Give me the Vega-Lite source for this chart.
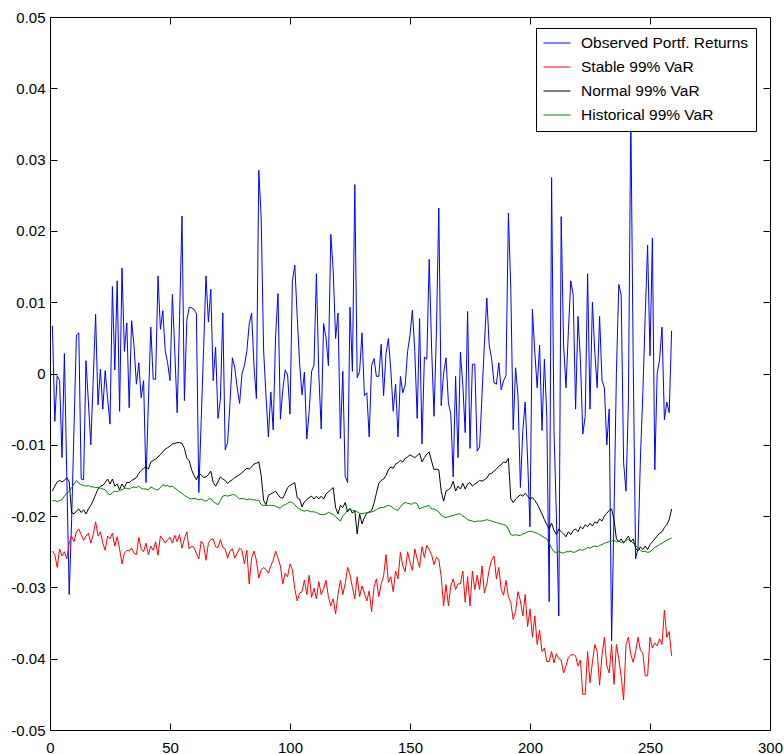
{
"$schema": "https://vega.github.io/schema/vega-lite/v6.json",
"width": 720, "height": 713,
"autosize": {"type": "none"},
"padding": {"left": 50, "top": 17, "right": 14, "bottom": 24},
"background": "white",
"config": {
 "font": "Liberation Sans",
 "view": {"stroke": "black", "strokeWidth": 1},
 "axis": {"grid": false, "title": null, "domain": false, "tickColor": "black", "labelColor": "black", "labelFontSize": 15, "labelFont": "Liberation Sans", "tickSize": 7, "offset": -7},
 "legend": {"labelFontSize": 15.5, "labelFont": "Liberation Sans", "labelColor": "black", "labelLimit": 400, "symbolType": "stroke", "symbolSize": 729, "symbolStrokeWidth": 1, "labelOffset": 10, "padding": 7, "rowPadding": 7, "clipHeight": 16, "fillColor": "white", "strokeColor": "black", "orient": "none", "legendX": 486, "legendY": 11, "title": null}
},
"data": {"values": [
{"x":1,"o":0.0067,"s":-0.0249,"n":-0.0165,"h":-0.0179},
{"x":2,"o":-0.0067,"s":-0.0254,"n":-0.0158,"h":-0.0178},
{"x":3,"o":-0.0003,"s":-0.0272,"n":-0.0152,"h":-0.018},
{"x":4,"o":-0.001,"s":-0.0246,"n":-0.015,"h":-0.0178},
{"x":5,"o":-0.0118,"s":-0.0256,"n":-0.0152,"h":-0.0177},
{"x":6,"o":0.0028,"s":-0.025,"n":-0.015,"h":-0.0172},
{"x":7,"o":-0.0145,"s":-0.026,"n":-0.0146,"h":-0.0168},
{"x":8,"o":-0.031,"s":-0.0238,"n":-0.0152,"h":-0.0165},
{"x":9,"o":-0.0207,"s":-0.0228,"n":-0.0195,"h":-0.016},
{"x":10,"o":-0.0077,"s":-0.0236,"n":-0.0197,"h":-0.0155},
{"x":11,"o":0.0054,"s":-0.0222,"n":-0.0193,"h":-0.015},
{"x":12,"o":0.0057,"s":-0.0218,"n":-0.019,"h":-0.0154},
{"x":13,"o":-0.0148,"s":-0.0226,"n":-0.0195,"h":-0.0156},
{"x":14,"o":-0.0149,"s":-0.0234,"n":-0.0191,"h":-0.0157},
{"x":15,"o":0.0018,"s":-0.0228,"n":-0.0197,"h":-0.0158},
{"x":16,"o":-0.004,"s":-0.0224,"n":-0.019,"h":-0.0157},
{"x":17,"o":-0.01,"s":-0.0238,"n":-0.0185,"h":-0.0159},
{"x":18,"o":-0.001,"s":-0.0226,"n":-0.0178,"h":-0.0159},
{"x":19,"o":0.0083,"s":-0.0208,"n":-0.017,"h":-0.016},
{"x":20,"o":-0.0044,"s":-0.0228,"n":-0.0162,"h":-0.016},
{"x":21,"o":0.0006,"s":-0.0222,"n":-0.0158,"h":-0.0161},
{"x":22,"o":-0.005,"s":-0.0238,"n":-0.0157,"h":-0.0162},
{"x":23,"o":0.0004,"s":-0.0248,"n":-0.0153,"h":-0.0163},
{"x":24,"o":-0.0035,"s":-0.0228,"n":-0.0148,"h":-0.0168},
{"x":25,"o":-0.0071,"s":-0.0232,"n":-0.0155,"h":-0.017},
{"x":26,"o":0.0122,"s":-0.0224,"n":-0.0148,"h":-0.0167},
{"x":27,"o":0.0005,"s":-0.0242,"n":-0.0158,"h":-0.0165},
{"x":28,"o":0.013,"s":-0.0229,"n":-0.0155,"h":-0.0166},
{"x":29,"o":-0.0053,"s":-0.0246,"n":-0.0163,"h":-0.0164},
{"x":30,"o":0.0148,"s":-0.0267,"n":-0.0155,"h":-0.0163},
{"x":31,"o":0.0031,"s":-0.0252,"n":-0.016,"h":-0.0161},
{"x":32,"o":0.0071,"s":-0.0248,"n":-0.0153,"h":-0.0161},
{"x":33,"o":-0.0048,"s":-0.0249,"n":-0.0153,"h":-0.0162},
{"x":34,"o":0.0074,"s":-0.0245,"n":-0.015,"h":-0.016},
{"x":35,"o":0.0039,"s":-0.0252,"n":-0.0148,"h":-0.0159},
{"x":36,"o":-0.0015,"s":-0.0254,"n":-0.0146,"h":-0.016},
{"x":37,"o":0.0015,"s":-0.023,"n":-0.014,"h":-0.0158},
{"x":38,"o":-0.0034,"s":-0.0246,"n":-0.0136,"h":-0.0161},
{"x":39,"o":-0.001,"s":-0.025,"n":-0.0133,"h":-0.0162},
{"x":40,"o":-0.0153,"s":-0.0238,"n":-0.0131,"h":-0.0162},
{"x":41,"o":-0.004,"s":-0.0254,"n":-0.0134,"h":-0.0163},
{"x":42,"o":0.0065,"s":-0.0242,"n":-0.0124,"h":-0.0159},
{"x":43,"o":-0.0008,"s":-0.0248,"n":-0.0122,"h":-0.0161},
{"x":44,"o":-0.0008,"s":-0.0236,"n":-0.012,"h":-0.0163},
{"x":45,"o":0.0137,"s":-0.0255,"n":-0.0117,"h":-0.0163},
{"x":46,"o":0.0062,"s":-0.0228,"n":-0.0114,"h":-0.016},
{"x":47,"o":0.0088,"s":-0.0232,"n":-0.011,"h":-0.0156},
{"x":48,"o":0.0032,"s":-0.0238,"n":-0.0106,"h":-0.0158},
{"x":49,"o":0.0015,"s":-0.0233,"n":-0.0104,"h":-0.0157},
{"x":50,"o":-0.001,"s":-0.023,"n":-0.0102,"h":-0.0159},
{"x":51,"o":0.0111,"s":-0.0238,"n":-0.0099,"h":-0.0158},
{"x":52,"o":0.003,"s":-0.0227,"n":-0.0098,"h":-0.0161},
{"x":53,"o":-0.0055,"s":-0.0236,"n":-0.0097,"h":-0.0163},
{"x":54,"o":0.008,"s":-0.0226,"n":-0.0097,"h":-0.0166},
{"x":55,"o":0.0221,"s":-0.0245,"n":-0.0098,"h":-0.0168},
{"x":56,"o":-0.0038,"s":-0.0232,"n":-0.0105,"h":-0.0171},
{"x":57,"o":0.0074,"s":-0.0222,"n":-0.0119,"h":-0.0173},
{"x":58,"o":0.0093,"s":-0.0246,"n":-0.0122,"h":-0.0175},
{"x":59,"o":0.0092,"s":-0.0242,"n":-0.0135,"h":-0.0176},
{"x":60,"o":0.009,"s":-0.0244,"n":-0.0143,"h":-0.0175},
{"x":61,"o":0.0084,"s":-0.0252,"n":-0.0149,"h":-0.0176},
{"x":62,"o":-0.0167,"s":-0.026,"n":-0.0141,"h":-0.0177},
{"x":63,"o":-0.0066,"s":-0.0235,"n":-0.0142,"h":-0.0176},
{"x":64,"o":0.0035,"s":-0.024,"n":-0.0146,"h":-0.0178},
{"x":65,"o":0.0137,"s":-0.0262,"n":-0.0145,"h":-0.0179},
{"x":66,"o":0.0072,"s":-0.0238,"n":-0.0142,"h":-0.0177},
{"x":67,"o":0.0118,"s":-0.0233,"n":-0.0137,"h":-0.0175},
{"x":68,"o":-0.001,"s":-0.0232,"n":-0.0153,"h":-0.018},
{"x":69,"o":0.0037,"s":-0.0243,"n":-0.0158,"h":-0.0182},
{"x":70,"o":-0.0063,"s":-0.0244,"n":-0.0152,"h":-0.0184},
{"x":71,"o":-0.0036,"s":-0.0233,"n":-0.0145,"h":-0.0178},
{"x":72,"o":0.0085,"s":-0.0244,"n":-0.0148,"h":-0.0172},
{"x":73,"o":-0.0107,"s":-0.0246,"n":-0.015,"h":-0.0171},
{"x":74,"o":-0.0097,"s":-0.0259,"n":-0.0154,"h":-0.0172},
{"x":75,"o":-0.0041,"s":-0.0249,"n":-0.0151,"h":-0.0171},
{"x":76,"o":0.0022,"s":-0.0246,"n":-0.0149,"h":-0.017},
{"x":77,"o":0.0008,"s":-0.0259,"n":-0.0146,"h":-0.017},
{"x":78,"o":-0.002,"s":-0.0252,"n":-0.0144,"h":-0.0173},
{"x":79,"o":-0.0042,"s":-0.0245,"n":-0.0142,"h":-0.0176},
{"x":80,"o":0.0,"s":-0.0248,"n":-0.0139,"h":-0.0175},
{"x":81,"o":0.0011,"s":-0.0267,"n":-0.0136,"h":-0.0176},
{"x":82,"o":0.0031,"s":-0.0248,"n":-0.0133,"h":-0.0177},
{"x":83,"o":0.0069,"s":-0.0295,"n":-0.0134,"h":-0.0176},
{"x":84,"o":0.0085,"s":-0.0259,"n":-0.0131,"h":-0.0177},
{"x":85,"o":0.001,"s":-0.0249,"n":-0.0127,"h":-0.0177},
{"x":86,"o":-0.0035,"s":-0.0262,"n":-0.0126,"h":-0.0178},
{"x":87,"o":0.0285,"s":-0.0287,"n":-0.0124,"h":-0.0178},
{"x":88,"o":0.0218,"s":-0.0275,"n":-0.0143,"h":-0.0184},
{"x":89,"o":0.0033,"s":-0.0272,"n":-0.0178,"h":-0.0185},
{"x":90,"o":-0.0032,"s":-0.0275,"n":-0.0184,"h":-0.0185},
{"x":91,"o":-0.0089,"s":-0.028,"n":-0.0171,"h":-0.0185},
{"x":92,"o":-0.0026,"s":-0.027,"n":-0.0169,"h":-0.0185},
{"x":93,"o":-0.0079,"s":-0.0262,"n":-0.0167,"h":-0.0185},
{"x":94,"o":0.0053,"s":-0.0249,"n":-0.0165,"h":-0.0186},
{"x":95,"o":0.0112,"s":-0.0259,"n":-0.017,"h":-0.0188},
{"x":96,"o":-0.0064,"s":-0.027,"n":-0.0174,"h":-0.0189},
{"x":97,"o":-0.0023,"s":-0.0295,"n":-0.0175,"h":-0.0185},
{"x":98,"o":0.0005,"s":-0.028,"n":-0.0168,"h":-0.0184},
{"x":99,"o":-0.0002,"s":-0.0285,"n":-0.016,"h":-0.0182},
{"x":100,"o":-0.0057,"s":-0.0267,"n":-0.0157,"h":-0.018},
{"x":101,"o":0.013,"s":-0.0275,"n":-0.0155,"h":-0.0181},
{"x":102,"o":0.0152,"s":-0.0302,"n":-0.0153,"h":-0.0184},
{"x":103,"o":0.008,"s":-0.0319,"n":-0.0174,"h":-0.0188},
{"x":104,"o":0.0015,"s":-0.0308,"n":-0.0176,"h":-0.019},
{"x":105,"o":-0.003,"s":-0.0306,"n":-0.0187,"h":-0.0192},
{"x":106,"o":0.0002,"s":-0.029,"n":-0.018,"h":-0.0193},
{"x":107,"o":-0.0092,"s":-0.031,"n":-0.0177,"h":-0.0192},
{"x":108,"o":-0.0053,"s":-0.0283,"n":-0.0174,"h":-0.0193},
{"x":109,"o":0.0003,"s":-0.0314,"n":-0.0172,"h":-0.0194},
{"x":110,"o":0.0012,"s":-0.0301,"n":-0.0176,"h":-0.0194},
{"x":111,"o":0.014,"s":-0.0316,"n":-0.0172,"h":-0.0195},
{"x":112,"o":0.0,"s":-0.0292,"n":-0.0176,"h":-0.0197},
{"x":113,"o":-0.0078,"s":-0.031,"n":-0.0172,"h":-0.0198},
{"x":114,"o":0.007,"s":-0.0302,"n":-0.0176,"h":-0.0198},
{"x":115,"o":0.005,"s":-0.029,"n":-0.0169,"h":-0.0197},
{"x":116,"o":0.0011,"s":-0.0313,"n":-0.0166,"h":-0.0195},
{"x":117,"o":0.0195,"s":-0.0326,"n":-0.0163,"h":-0.0196},
{"x":118,"o":0.0145,"s":-0.0316,"n":-0.016,"h":-0.0198},
{"x":119,"o":0.0049,"s":-0.0337,"n":-0.0188,"h":-0.0201},
{"x":120,"o":0.0085,"s":-0.031,"n":-0.0197,"h":-0.0204},
{"x":121,"o":-0.0091,"s":-0.029,"n":-0.0185,"h":-0.0207},
{"x":122,"o":0.0003,"s":-0.031,"n":-0.0188,"h":-0.02},
{"x":123,"o":-0.0144,"s":-0.0295,"n":-0.0181,"h":-0.0196},
{"x":124,"o":-0.0153,"s":-0.0272,"n":-0.0194,"h":-0.0191},
{"x":125,"o":0.0093,"s":-0.0282,"n":-0.0189,"h":-0.0191},
{"x":126,"o":0.0003,"s":-0.03,"n":-0.0196,"h":-0.0192},
{"x":127,"o":0.0265,"s":-0.0316,"n":-0.0192,"h":-0.0193},
{"x":128,"o":-0.0006,"s":-0.0285,"n":-0.0225,"h":-0.0194},
{"x":129,"o":0.0003,"s":-0.0313,"n":-0.0197,"h":-0.0196},
{"x":130,"o":0.0057,"s":-0.0298,"n":-0.0211,"h":-0.0197},
{"x":131,"o":-0.0031,"s":-0.0308,"n":-0.0202,"h":-0.0196},
{"x":132,"o":-0.0027,"s":-0.0319,"n":-0.0196,"h":-0.0195},
{"x":133,"o":-0.0089,"s":-0.0305,"n":-0.0194,"h":-0.0195},
{"x":134,"o":0.0011,"s":-0.0334,"n":-0.0192,"h":-0.0194},
{"x":135,"o":0.0021,"s":-0.03,"n":-0.0182,"h":-0.0193},
{"x":136,"o":-0.0004,"s":-0.0288,"n":-0.0168,"h":-0.0191},
{"x":137,"o":-0.0004,"s":-0.0313,"n":-0.0154,"h":-0.0189},
{"x":138,"o":0.0041,"s":-0.0295,"n":-0.015,"h":-0.0188},
{"x":139,"o":-0.0031,"s":-0.0284,"n":-0.0148,"h":-0.0188},
{"x":140,"o":0.0028,"s":-0.0254,"n":-0.0143,"h":-0.0186},
{"x":141,"o":0.0049,"s":-0.0293,"n":-0.0135,"h":-0.0185},
{"x":142,"o":0.0005,"s":-0.0285,"n":-0.0131,"h":-0.0186},
{"x":143,"o":-0.0053,"s":-0.0306,"n":-0.0133,"h":-0.0189},
{"x":144,"o":-0.0015,"s":-0.0277,"n":-0.0127,"h":-0.0191},
{"x":145,"o":-0.0089,"s":-0.0288,"n":-0.0125,"h":-0.0192},
{"x":146,"o":-0.0004,"s":-0.0251,"n":-0.0122,"h":-0.0187},
{"x":147,"o":-0.0027,"s":-0.027,"n":-0.0124,"h":-0.0183},
{"x":148,"o":-0.0016,"s":-0.0278,"n":-0.0119,"h":-0.0181},
{"x":149,"o":0.0031,"s":-0.025,"n":-0.0117,"h":-0.0182},
{"x":150,"o":0.0054,"s":-0.0265,"n":-0.0114,"h":-0.0183},
{"x":151,"o":0.0089,"s":-0.0276,"n":-0.0116,"h":-0.0183},
{"x":152,"o":0.0031,"s":-0.0246,"n":-0.0118,"h":-0.0181},
{"x":153,"o":-0.0063,"s":-0.026,"n":-0.0115,"h":-0.0183},
{"x":154,"o":0.0077,"s":-0.0272,"n":-0.0112,"h":-0.019},
{"x":155,"o":-0.0099,"s":-0.0243,"n":-0.0124,"h":-0.0188},
{"x":156,"o":0.0023,"s":-0.0258,"n":-0.0118,"h":-0.0187},
{"x":157,"o":0.002,"s":-0.0241,"n":-0.0113,"h":-0.0186},
{"x":158,"o":0.016,"s":-0.0247,"n":-0.011,"h":-0.0185},
{"x":159,"o":0.0036,"s":-0.0254,"n":-0.0123,"h":-0.019},
{"x":160,"o":-0.006,"s":-0.0268,"n":-0.0135,"h":-0.019},
{"x":161,"o":0.0057,"s":-0.0258,"n":-0.0134,"h":-0.0192},
{"x":162,"o":0.0232,"s":-0.0261,"n":-0.0135,"h":-0.0194},
{"x":163,"o":-0.0045,"s":-0.0285,"n":-0.0165,"h":-0.0199},
{"x":164,"o":0.0,"s":-0.0326,"n":-0.0179,"h":-0.0201},
{"x":165,"o":0.0022,"s":-0.0296,"n":-0.0165,"h":-0.0202},
{"x":166,"o":-0.0041,"s":-0.0326,"n":-0.0163,"h":-0.0201},
{"x":167,"o":-0.0057,"s":-0.0298,"n":-0.016,"h":-0.02},
{"x":168,"o":-0.0145,"s":-0.0288,"n":-0.0151,"h":-0.0199},
{"x":169,"o":-0.0004,"s":-0.0303,"n":-0.0165,"h":-0.0198},
{"x":170,"o":-0.0118,"s":-0.0295,"n":-0.0158,"h":-0.0197},
{"x":171,"o":0.003,"s":-0.0295,"n":-0.0162,"h":-0.0197},
{"x":172,"o":-0.0016,"s":-0.0277,"n":-0.0154,"h":-0.02},
{"x":173,"o":-0.0083,"s":-0.0321,"n":-0.0162,"h":-0.0202},
{"x":174,"o":0.0087,"s":-0.0285,"n":-0.0155,"h":-0.0205},
{"x":175,"o":-0.0105,"s":-0.0326,"n":-0.0153,"h":-0.0206},
{"x":176,"o":0.0013,"s":-0.0277,"n":-0.0158,"h":-0.0207},
{"x":177,"o":0.0013,"s":-0.0303,"n":-0.0155,"h":-0.0208},
{"x":178,"o":-0.0109,"s":-0.0283,"n":-0.0153,"h":-0.0207},
{"x":179,"o":-0.0103,"s":-0.0303,"n":-0.015,"h":-0.0207},
{"x":180,"o":-0.003,"s":-0.027,"n":-0.0151,"h":-0.0207},
{"x":181,"o":0.0041,"s":-0.0308,"n":-0.0149,"h":-0.0206},
{"x":182,"o":0.0106,"s":-0.0295,"n":-0.0147,"h":-0.0205},
{"x":183,"o":0.004,"s":-0.0275,"n":-0.0141,"h":-0.0206},
{"x":184,"o":0.0021,"s":-0.0262,"n":-0.014,"h":-0.0207},
{"x":185,"o":-0.0013,"s":-0.0256,"n":-0.0137,"h":-0.0208},
{"x":186,"o":-0.0015,"s":-0.0288,"n":-0.0134,"h":-0.0209},
{"x":187,"o":0.0015,"s":-0.0272,"n":-0.013,"h":-0.021},
{"x":188,"o":-0.0023,"s":-0.0303,"n":-0.0128,"h":-0.0211},
{"x":189,"o":-0.001,"s":-0.0311,"n":-0.0124,"h":-0.0212},
{"x":190,"o":-0.0003,"s":-0.029,"n":-0.0125,"h":-0.0213},
{"x":191,"o":0.0225,"s":-0.0313,"n":-0.0119,"h":-0.0218},
{"x":192,"o":0.0119,"s":-0.0321,"n":-0.0176,"h":-0.0226},
{"x":193,"o":-0.0079,"s":-0.0345,"n":-0.0181,"h":-0.0227},
{"x":194,"o":0.0008,"s":-0.0334,"n":-0.0176,"h":-0.0226},
{"x":195,"o":-0.0031,"s":-0.0306,"n":-0.0173,"h":-0.0227},
{"x":196,"o":-0.016,"s":-0.0319,"n":-0.017,"h":-0.0227},
{"x":197,"o":-0.008,"s":-0.034,"n":-0.0172,"h":-0.0225},
{"x":198,"o":-0.004,"s":-0.031,"n":-0.0168,"h":-0.0224},
{"x":199,"o":-0.012,"s":-0.0355,"n":-0.0172,"h":-0.0222},
{"x":200,"o":-0.0215,"s":-0.033,"n":-0.0176,"h":-0.0221},
{"x":201,"o":0.009,"s":-0.037,"n":-0.0174,"h":-0.0222},
{"x":202,"o":0.003,"s":-0.034,"n":-0.0178,"h":-0.0223},
{"x":203,"o":-0.002,"s":-0.038,"n":-0.0183,"h":-0.0224},
{"x":204,"o":0.004,"s":-0.036,"n":-0.019,"h":-0.0226},
{"x":205,"o":-0.008,"s":-0.039,"n":-0.0197,"h":-0.0228},
{"x":206,"o":0.002,"s":-0.0385,"n":-0.0205,"h":-0.023},
{"x":207,"o":-0.006,"s":-0.0404,"n":-0.0212,"h":-0.0232},
{"x":208,"o":-0.032,"s":-0.0404,"n":-0.0218,"h":-0.0238},
{"x":209,"o":0.0275,"s":-0.039,"n":-0.021,"h":-0.0245},
{"x":210,"o":-0.008,"s":-0.0406,"n":-0.022,"h":-0.025},
{"x":211,"o":-0.02,"s":-0.0393,"n":-0.0226,"h":-0.0251},
{"x":212,"o":-0.034,"s":-0.04,"n":-0.0218,"h":-0.025},
{"x":213,"o":0.022,"s":-0.0402,"n":-0.0222,"h":-0.0251},
{"x":214,"o":0.004,"s":-0.042,"n":-0.0225,"h":-0.0252},
{"x":215,"o":-0.002,"s":-0.041,"n":-0.0229,"h":-0.025},
{"x":216,"o":0.006,"s":-0.0398,"n":-0.0222,"h":-0.025},
{"x":217,"o":0.013,"s":-0.0395,"n":-0.0226,"h":-0.0249},
{"x":218,"o":0.011,"s":-0.0394,"n":-0.022,"h":-0.0251},
{"x":219,"o":-0.005,"s":-0.0396,"n":-0.0218,"h":-0.025},
{"x":220,"o":0.008,"s":-0.041,"n":-0.0222,"h":-0.0248},
{"x":221,"o":0.002,"s":-0.0402,"n":-0.0215,"h":-0.0247},
{"x":222,"o":-0.0085,"s":-0.045,"n":-0.0218,"h":-0.0248},
{"x":223,"o":-0.006,"s":-0.045,"n":-0.0212,"h":-0.0246},
{"x":224,"o":0.014,"s":-0.039,"n":-0.0215,"h":-0.0244},
{"x":225,"o":-0.005,"s":-0.0434,"n":-0.021,"h":-0.0245},
{"x":226,"o":0.01,"s":-0.0405,"n":-0.0214,"h":-0.0243},
{"x":227,"o":0.003,"s":-0.038,"n":-0.0208,"h":-0.0242},
{"x":228,"o":-0.002,"s":-0.039,"n":-0.021,"h":-0.0243},
{"x":229,"o":0.008,"s":-0.0437,"n":-0.0204,"h":-0.0241},
{"x":230,"o":-0.001,"s":-0.0395,"n":-0.0207,"h":-0.024},
{"x":231,"o":-0.002,"s":-0.037,"n":-0.02,"h":-0.0238},
{"x":232,"o":-0.01,"s":-0.041,"n":-0.0196,"h":-0.0237},
{"x":233,"o":-0.005,"s":-0.042,"n":-0.0192,"h":-0.0236},
{"x":234,"o":-0.0375,"s":-0.038,"n":-0.019,"h":-0.0235},
{"x":235,"o":-0.02,"s":-0.0436,"n":-0.0205,"h":-0.0234},
{"x":236,"o":0.0,"s":-0.038,"n":-0.0232,"h":-0.0236},
{"x":237,"o":0.0125,"s":-0.04,"n":-0.0236,"h":-0.0235},
{"x":238,"o":0.011,"s":-0.0425,"n":-0.0232,"h":-0.0237},
{"x":239,"o":-0.0125,"s":-0.0458,"n":-0.0238,"h":-0.0236},
{"x":240,"o":-0.0165,"s":-0.038,"n":-0.0233,"h":-0.0234},
{"x":241,"o":-0.004,"s":-0.037,"n":-0.0228,"h":-0.0233},
{"x":242,"o":0.0366,"s":-0.0394,"n":-0.0236,"h":-0.0235},
{"x":243,"o":0.002,"s":-0.0405,"n":-0.0232,"h":-0.0238},
{"x":244,"o":-0.026,"s":-0.039,"n":-0.0245,"h":-0.0241},
{"x":245,"o":-0.0245,"s":-0.037,"n":-0.0249,"h":-0.0245},
{"x":246,"o":-0.012,"s":-0.0388,"n":-0.0243,"h":-0.0248},
{"x":247,"o":-0.003,"s":-0.0392,"n":-0.0247,"h":-0.025},
{"x":248,"o":0.008,"s":-0.0424,"n":-0.0242,"h":-0.0249},
{"x":249,"o":0.018,"s":-0.0424,"n":-0.0247,"h":-0.0251},
{"x":250,"o":0.0025,"s":-0.037,"n":-0.024,"h":-0.025},
{"x":251,"o":0.019,"s":-0.0385,"n":-0.0236,"h":-0.0247},
{"x":252,"o":-0.0135,"s":-0.0378,"n":-0.0232,"h":-0.0244},
{"x":253,"o":0.0,"s":-0.0382,"n":-0.0228,"h":-0.0242},
{"x":254,"o":0.002,"s":-0.0372,"n":-0.0224,"h":-0.024},
{"x":255,"o":0.0065,"s":-0.038,"n":-0.0222,"h":-0.0238},
{"x":256,"o":-0.0065,"s":-0.0332,"n":-0.0216,"h":-0.0236},
{"x":257,"o":-0.004,"s":-0.037,"n":-0.0212,"h":-0.0234},
{"x":258,"o":-0.0055,"s":-0.0362,"n":-0.0205,"h":-0.0232},
{"x":259,"o":0.006,"s":-0.0396,"n":-0.019,"h":-0.0231}
]},
"transform": [{"fold": ["o", "s", "n", "h"], "as": ["series", "value"]}],
"encoding": {
 "x": {"field": "x", "type": "quantitative", "scale": {"domain": [0, 300], "nice": false}},
 "y": {"field": "value", "type": "quantitative", "scale": {"domain": [-0.05, 0.05], "nice": false, "zero": false}},
 "color": {"field": "series", "type": "nominal", "sort": null,
   "scale": {"domain": ["o", "s", "n", "h"], "range": ["#0000ff", "#ff0000", "#000000", "#008000"]},
   "legend": {"labelExpr": "datum.label == 'o' ? 'Observed Portf. Returns' : datum.label == 's' ? 'Stable 99% VaR' : datum.label == 'n' ? 'Normal 99% VaR' : 'Historical 99% VaR'"}}
},
"layer": [
 {"transform": [{"filter": "datum.series == 'o'"}],
  "mark": {"type": "line", "strokeWidth": 1},
  "encoding": {
   "x": {"field": "x", "type": "quantitative", "axis": {"orient": "bottom", "values": [0, 50, 100, 150, 200, 250, 300], "labelPadding": 10, "labelFlush": false, "labelOverlap": false}},
   "y": {"field": "value", "type": "quantitative", "axis": {"orient": "left", "values": [-0.05, -0.04, -0.03, -0.02, -0.01, 0, 0.01, 0.02, 0.03, 0.04, 0.05], "labelPadding": 5, "labelFlush": false, "labelOverlap": false, "labelExpr": "datum.value == 0 ? '0' : replace(format(datum.value, '.2f'), '\u2212', '-')"}}
  }},
 {"transform": [{"filter": "datum.series != 'o'"}],
  "mark": {"type": "line", "strokeWidth": 1},
  "encoding": {
   "x": {"field": "x", "type": "quantitative", "axis": {"orient": "top", "values": [0, 50, 100, 150, 200, 250, 300], "labels": false}},
   "y": {"field": "value", "type": "quantitative", "axis": {"orient": "right", "values": [-0.05, -0.04, -0.03, -0.02, -0.01, 0, 0.01, 0.02, 0.03, 0.04, 0.05], "labels": false}}
  }}
],
"resolve": {"axis": {"x": "independent", "y": "independent"}}
}
